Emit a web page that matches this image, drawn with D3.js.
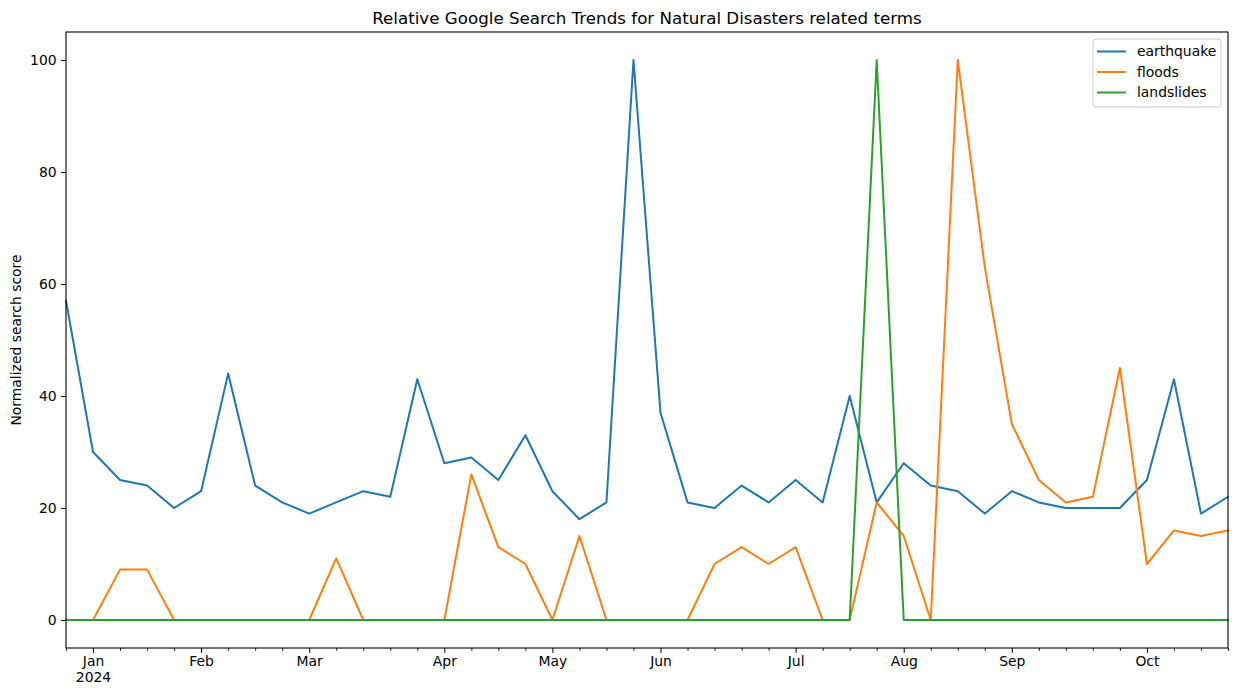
<!DOCTYPE html>
<html>
<head>
<meta charset="utf-8">
<script src="https://cdn.jsdelivr.net/npm/d3@7"></script>
<style>
  body { margin: 0; background: #fff; }
  svg { display: block; }
  text { font-family: "DejaVu Sans", sans-serif; fill: #000; }
</style>
</head>
<body>
<svg id="chart" width="1238" height="698"></svg>
<script>
// ---- Data (weekly, Sundays) ----
const startDate = "2023-12-31";
const weekCount = 44;
const earthquake = [57, 30, 25, 24, 20, 23, 44, 24, 21, 19, 21, 23, 22, 43, 28, 29, 25, 33, 23, 18, 21, 100,
                    37, 21, 20, 24, 21, 25, 21, 40, 21, 28, 24, 23, 19, 23, 21, 20, 20, 20, 25, 43, 19, 22];
const floods     = [0, 0, 9, 9, 0, 0, 0, 0, 0, 0, 11, 0, 0, 0, 0, 26, 13, 10, 0, 15, 0, 0,
                    0, 0, 10, 13, 10, 13, 0, 0, 21, 15, 0, 100, 63, 35, 25, 21, 22, 45, 10, 16, 15, 16];
const landslides = [0, 0, 0, 0, 0, 0, 0, 0, 0, 0, 0, 0, 0, 0, 0, 0, 0, 0, 0, 0, 0, 0,
                    0, 0, 0, 0, 0, 0, 0, 0, 100, 0, 0, 0, 0, 0, 0, 0, 0, 0, 0, 0, 0, 0];
const seriesNames = ["earthquake", "floods", "landslides"];
const seriesColors = ["#1f77b4", "#ff7f0e", "#2ca02c"];
const yTicks = [0, 20, 40, 60, 80, 100];
const monthLabels = ["Jan", "Feb", "Mar", "Apr", "May", "Jun", "Jul", "Aug", "Sep", "Oct"];
const yearLabel = "2024";
const titleText = "Relative Google Search Trends for Natural Disasters related terms";
const yLabelText = "Normalized search score";

// ---- Build dates ----
const parse = d3.utcParse("%Y-%m-%d");
const dates = d3.utcWeek.range(parse(startDate), d3.utcWeek.offset(parse(startDate), weekCount));
const seriesValues = [earthquake, floods, landslides];

// ---- Layout ----
const svg = d3.select("#chart");
const L = 66, R = 1228, T = 32, B = 648;
const FS = "13.9px";

const x = d3.scaleUtc().domain([dates[0], dates[dates.length - 1]]).range([L, R]);
const y = d3.scaleLinear().domain([-5, 105]).range([B, T]);

// Major ticks: the weekly point whose week contains the 1st of each month
const majorTicks = monthLabels.map((m, i) => {
  const monthStart = new Date(Date.UTC(2024, i, 1));
  return dates.find(d => d >= monthStart);
});
const majorSet = new Set(majorTicks.map(d => +d));
const minorTicks = dates.filter(d => !majorSet.has(+d));

// ---- Lines ----
const line = d3.line().x((d, i) => x(dates[i])).y(d => y(d));
const plot = svg.append("g");
seriesValues.forEach((vals, k) => {
  plot.append("path")
    .datum(vals)
    .attr("fill", "none")
    .attr("stroke", seriesColors[k])
    .attr("stroke-width", 2)
    .attr("stroke-linejoin", "round")
    .attr("stroke-linecap", "square")
    .attr("d", line);
});

// ---- Frame ----
svg.append("rect")
  .attr("x", L).attr("y", T).attr("width", R - L).attr("height", B - T)
  .attr("fill", "none").attr("stroke", "#000").attr("stroke-width", 1.1);

// ---- X axis ----
const xMinor = svg.append("g").attr("transform", `translate(0,${B})`)
  .call(d3.axisBottom(x).tickValues(minorTicks).tickSize(2.8).tickFormat(""));
xMinor.select(".domain").remove();
xMinor.selectAll("line").attr("stroke", "#000").attr("stroke-width", 0.9);

const xMajor = svg.append("g").attr("transform", `translate(0,${B})`)
  .call(d3.axisBottom(x).tickValues(majorTicks).tickSize(4.9).tickPadding(3.5)
    .tickFormat((d, i) => monthLabels[i]));
xMajor.select(".domain").remove();
xMajor.selectAll("line").attr("stroke", "#000").attr("stroke-width", 1);
xMajor.selectAll("text").style("font-size", FS).style("font-family", "DejaVu Sans");
xMajor.selectAll(".tick").filter((d, i) => i === 0).select("text")
  .append("tspan").attr("x", 0).attr("dy", "1.1em").text(yearLabel);

// ---- Y axis ----
const yAxis = svg.append("g").attr("transform", `translate(${L},0)`)
  .call(d3.axisLeft(y).tickValues(yTicks).tickSize(4.9).tickPadding(4.5));
yAxis.select(".domain").remove();
yAxis.selectAll("line").attr("stroke", "#000").attr("stroke-width", 1);
yAxis.selectAll("text").style("font-size", FS).style("font-family", "DejaVu Sans");

// ---- Title & labels ----
svg.append("text").attr("x", (L + R) / 2).attr("y", 24)
  .attr("text-anchor", "middle").style("font-size", "16.7px").text(titleText);

svg.append("text")
  .attr("transform", `translate(21,${(T + B) / 2}) rotate(-90)`)
  .attr("text-anchor", "middle").style("font-size", FS).text(yLabelText);

// ---- Legend ----
const lg = svg.append("g").attr("transform", "translate(1093,39)");
lg.append("rect").attr("x", 0).attr("y", 0).attr("width", 128).attr("height", 68)
  .attr("rx", 3).attr("fill", "#fff").attr("fill-opacity", 0.8)
  .attr("stroke", "#ccc").attr("stroke-width", 1);
seriesNames.forEach((name, k) => {
  const yy = 12.5 + k * 20.5;
  lg.append("line").attr("x1", 4).attr("x2", 33).attr("y1", yy).attr("y2", yy)
    .attr("stroke", seriesColors[k]).attr("stroke-width", 2);
  lg.append("text").attr("x", 44).attr("y", yy).attr("dy", "0.35em")
    .style("font-size", FS).text(name);
});
</script>
</body>
</html>
